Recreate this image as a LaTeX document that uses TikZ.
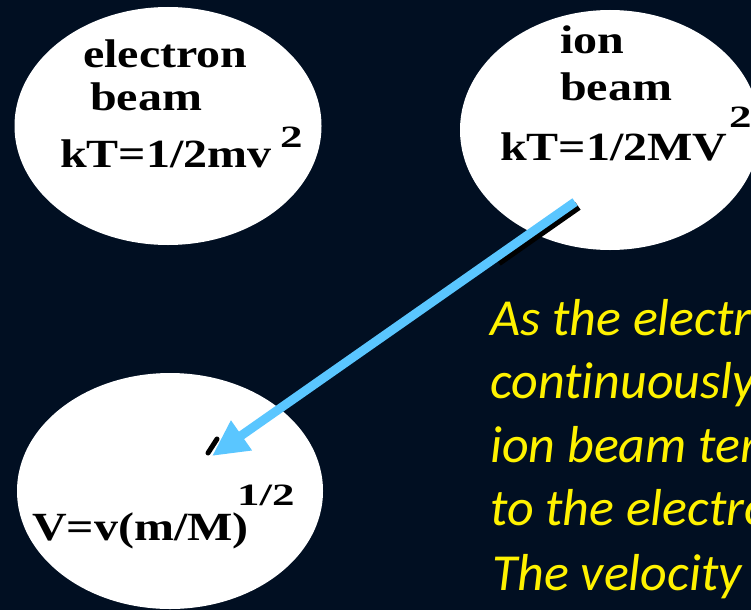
\documentclass[tikz,border=0pt]{standalone}
\usepackage{fontspec}
\usepackage{graphicx}
\usepackage{xcolor}
\setmainfont{Liberation Serif}
\newfontfamily\slidefont[Ligatures=NoCommon]{Carlito}
\usetikzlibrary{positioning, arrows.meta, calc, shapes.geometric}

\definecolor{slidebg}{RGB}{1,15,34}
\definecolor{arrowblue}{RGB}{90,198,255}
\newcommand{\widetext}[1]{\scalebox{1.2}[1]{#1}}
\newcommand{\powertext}[1]{\scalebox{1.45}[1]{#1}}

\begin{document}
\begin{tikzpicture}[
        x=1pt, y=-1pt,
        beam/.style={
          ellipse,
          fill=white,
          inner sep=0pt
        },
        formula/.style={
          anchor=base west,
          inner sep=0pt,
          font=\fontsize{40}{44}\selectfont\bfseries
        },
        power/.style={
          anchor=base west,
          inner sep=0pt,
          font=\fontsize{31}{33}\selectfont\bfseries
        },
        caption/.style={
          anchor=base west,
          inner sep=0pt,
          text=yellow,
          font=\slidefont\itshape\fontsize{52}{60}\selectfont
        },
        pointer/.style={arrowblue, line width=9pt, -{Triangle[length=36pt, width=34pt]}}
      ]
        \useasboundingbox (0,0) rectangle (751,610);
        \clip (0,0) rectangle (751,610);
        \fill[slidebg] (0,0) rectangle (751,610);

        \node[beam, minimum width=307, minimum height=238] (electron) at (168,126) {};
        \node[beam, minimum width=300, minimum height=240] (ion) at (610,130) {};
        \node[beam, minimum width=306, minimum height=236] (cooled) at (170,491) {};

        % electron beam
        \node[formula] (etitle) at (83,67) {\widetext{electron}};
        \node[formula] (ebeam) at (90,110) {\widetext{beam}};
        \node[formula] (eenergy) at (60,167) {\widetext{kT=1/2mv}};
        \node[power] (epower) at (280,147) {\powertext{2}};

        % ion beam
        \node[formula] (ititle) at (560,53) {\widetext{ion}};
        \node[formula] (ibeam) at (560,100) {\widetext{beam}};
        \node[formula] (ienergy) at (500,160) {\widetext{kT=1/2MV}};
        \node[power] (ipower) at (729,127) {\powertext{2}};

        % velocity
        \node[formula] (velocity) at (32,540) {\widetext{V=v(m/M)}};
        \node[power] (vpower) at (237,505) {\powertext{1/2}};

        \coordinate (arrowstart) at (575,202);
        \coordinate (arrowtip) at (212,456);
        \draw[line width=9pt] ($(arrowstart)+(3,4)$) -- ($(arrowstart)!0.22!(arrowtip)+(3,4)$);
        \draw[line width=5pt, line cap=round] (208,453) -- (217,439);
        \draw[pointer] (arrowstart) -- (arrowtip);

        \node[caption] (line1) at (490,335) {As the electr};
        \node[caption] (line2) at (490,398) {continuously};
        \node[caption] (line3) at (490,462) {ion beam ter};
        \node[caption] (line4) at (490,525) {to the electro};
        \node[caption] (line5) at (492,590) {The velocity};
      \end{tikzpicture}
\end{document}
